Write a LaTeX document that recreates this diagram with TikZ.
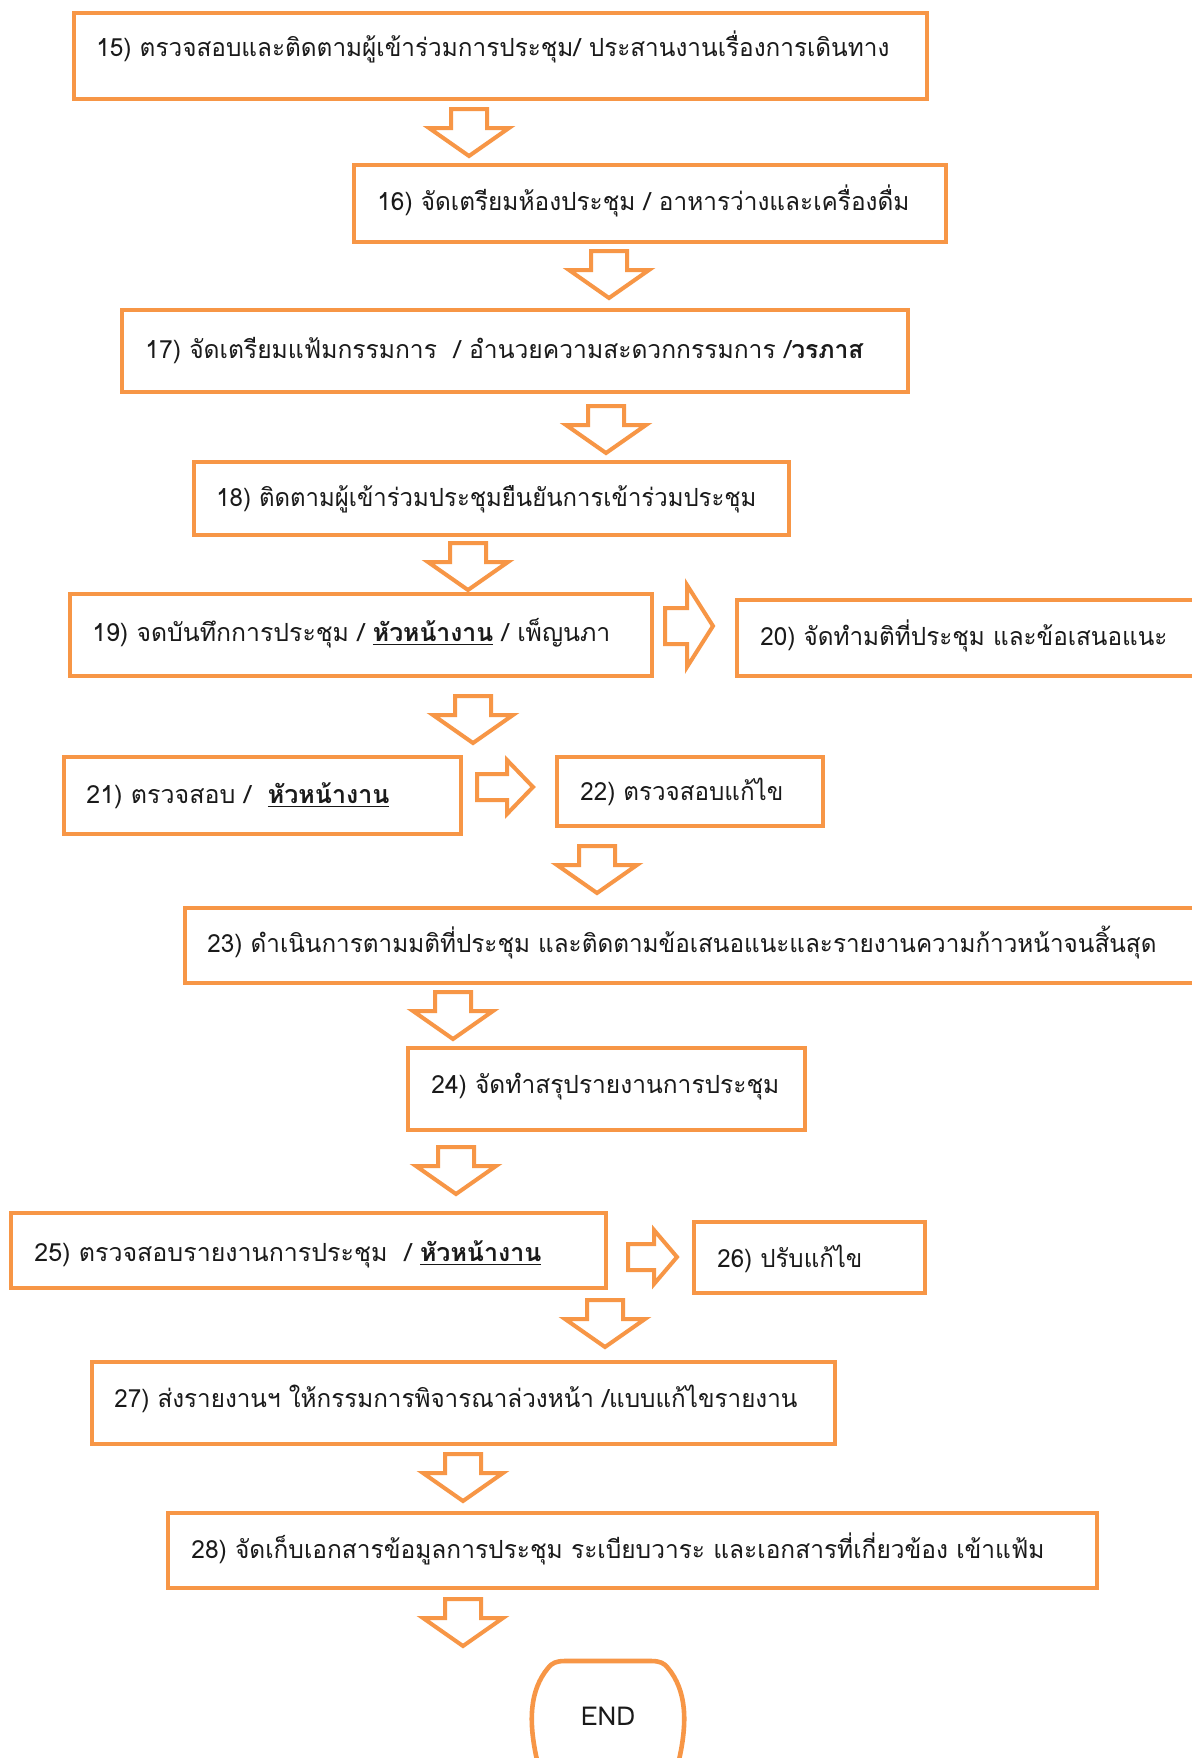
\documentclass[tikz,border=0pt]{standalone}
\usepackage{fontspec}
\usepackage{graphicx}
\usetikzlibrary{fit}
\newfontfamily\thai[Script=Thai]{Loma}
\definecolor{ora}{HTML}{F79646}
\definecolor{ink}{HTML}{1A1A1A}
\newcommand\fw[2]{\resizebox{#1}{\height}{#2}}
\newcommand\hb[1]{\underline{\bfseries #1}}
\tikzset{
  box/.style={draw=ora, line width=2.3pt, inner sep=0pt, fill=white},
  arr/.style={draw=ora, line width=2pt, fill=white, line join=miter},
  txt/.style={inner sep=0pt, anchor=base west, text=ink, font=\thai\fontsize{12.5}{15}\selectfont},
  pics/darr/.style={code={\draw[arr] (-18,0) -- (18,0) -- (18,19) -- (40,19) -- (0,47) -- (-40,19) -- (-18,19) -- cycle;}},
  pics/rarr/.style n args={4}{code={\draw[arr] (0,-#4) -- (#3,-#4) -- (#3,-#2) -- (#1,0) -- (#3,#2) -- (#3,#4) -- (0,#4) -- cycle;}}
}
\begin{document}
\begin{tikzpicture}[x=0.5pt,y=-0.5pt]
\useasboundingbox (0,0) rectangle (1192,1758);
\clip (0,0) rectangle (1192,1758);
\fill[white] (0,0) rectangle (1192,1758);
% boxes
\node[box, fit={(74,13)(927,99)}] (b15) {};
\node[box, fit={(354,165)(946,242)}] (b16) {};
\node[box, fit={(122,310)(908,392)}] (b17) {};
\node[box, fit={(194,462)(789,535)}] (b18) {};
\node[box, fit={(70,594)(652,676)}] (b19) {};
\node[box, fit={(737,600)(1230,676)}] (b20) {};
\node[box, fit={(64,757)(461,834)}] (b21) {};
\node[box, fit={(557,757)(823,826)}] (b22) {};
\node[box, fit={(185,908)(1230,983)}] (b23) {};
\node[box, fit={(408,1048)(805,1130)}] (b24) {};
\node[box, fit={(11,1213)(606,1288)}] (b25) {};
\node[box, fit={(694,1222)(925,1293)}] (b26) {};
\node[box, fit={(92,1362)(835,1444)}] (b27) {};
\node[box, fit={(168,1513)(1097,1588)}] (b28) {};
\draw[draw=ora, line width=2.3pt, fill=white] (537,1760) .. controls (528,1720) and (530,1690) .. (548,1668) .. controls (552,1663) and (556,1661) .. (565,1661) -- (651,1661) .. controls (660,1661) and (664,1663) .. (668,1668) .. controls (686,1690) and (688,1720) .. (679,1760);
\node[inner sep=0pt, anchor=base, text=ink, font=\fontspec{Loma}\fontsize{13}{15}\selectfont] (tend) at (608,1725) {END};
% texts
\node[txt] (t15) at (96,56) {\fw{396.5pt}{15) ตรวจสอบและติดตามผู้เข้าร่วมการประชุม/ ประสานงานเรื่องการเดินทาง}};
\node[txt] (t16) at (377,210) {\fw{266pt}{16) จัดเตรียมห้องประชุม / อาหารว่างและเครื่องดื่ม}};
\node[txt] (t17) at (145,358) {\fw{359pt}{17) จัดเตรียมแฟ้มกรรมการ~ / อำนวยความสะดวกกรรมการ /{\bfseries วรภาส}}};
\node[txt] (t18) at (216,506) {\fw{270pt}{18) ติดตามผู้เข้าร่วมประชุมยืนยันการเข้าร่วมประชุม}};
\node[txt] (t19) at (92,641) {\fw{259pt}{19) จดบันทึกการประชุม / \hb{หัวหน้างาน} / เพ็ญนภา}};
\node[txt] (t20) at (760,645) {\fw{203.5pt}{20) จัดทำมติที่ประชุม และข้อเสนอแนะ}};
\node[txt] (t21) at (86,803) {\fw{151.5pt}{21) ตรวจสอบ / ~\hb{หัวหน้างาน}}};
\node[txt] (t22) at (580,800) {\fw{101.5pt}{22) ตรวจสอบแก้ไข}};
\node[txt] (t23) at (207,952) {\fw{474.5pt}{23) ดำเนินการตามมติที่ประชุม และติดตามข้อเสนอแนะและรายงานความก้าวหน้าจนสิ้นสุด}};
\node[txt] (t24) at (431,1093) {\fw{174pt}{24) จัดทำสรุปรายงานการประชุม}};
\node[txt] (t25) at (34,1261) {\fw{253.5pt}{25) ตรวจสอบรายงานการประชุม~ / \hb{หัวหน้างาน}}};
\node[txt] (t26) at (717,1267) {\fw{72.5pt}{26) ปรับแก้ไข}};
\node[txt] (t27) at (114,1407) {\fw{341.5pt}{27) ส่งรายงานฯ ให้กรรมการพิจารณาล่วงหน้า /แบบแก้ไขรายงาน}};
\node[txt] (t28) at (191,1558) {\fw{426.5pt}{28) จัดเก็บเอกสารข้อมูลการประชุม ระเบียบวาระ และเอกสารที่เกี่ยวข้อง เข้าแฟ้ม}};
% down arrows
\pic (a1) at (469,109) {darr};
\pic (a2) at (609,251) {darr};
\pic (a3) at (606,406) {darr};
\pic (a4) at (468,543) {darr};
\pic (a6) at (473,696) {darr};
\pic (a8) at (597,846) {darr};
\pic (a9) at (453,992) {darr};
\pic (a10) at (456,1147) {darr};
\pic (a12) at (605,1300) {darr};
\pic (a13) at (463,1454) {darr};
\pic (a14) at (463,1599) {darr};
% right arrows
\pic (a5) at (665,626) {rarr={48}{41}{22}{18}};
\pic (a7) at (477,787) {rarr={56}{27}{30}{13}};
\pic (a11) at (628,1257) {rarr={49}{27}{26}{13}};
\end{tikzpicture}
\end{document}
